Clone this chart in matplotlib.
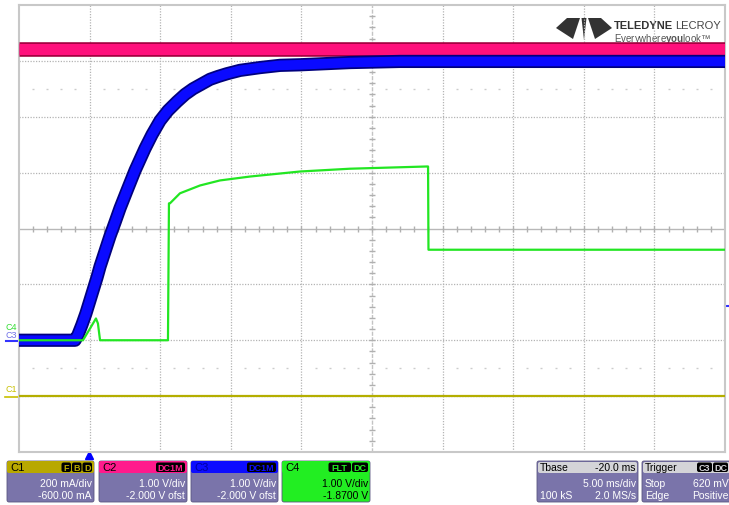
import numpy as np
import matplotlib.pyplot as plt
import matplotlib.patheffects as pe
from matplotlib.patches import FancyBboxPatch, Polygon

plt.rcParams['font.family'] = ['Liberation Sans', 'DejaVu Sans']
plt.rcParams['mathtext.fontset'] = 'custom'
plt.rcParams['mathtext.rm'] = 'Liberation Sans'
plt.rcParams['mathtext.bf'] = 'Liberation Sans:bold'

# timebase: ms relative to trigger, 5 ms/div, 10 divisions
t_start = -5.0
t_div = 5.0

# channel settings (scale per div, offset)
c1_scale, c1_offset = 0.2, -0.6     # A
c2_scale, c2_offset = 1.0, -2.0     # V
c3_scale, c3_offset = 1.0, -2.0     # V
c4_scale, c4_offset = 1.0, -1.87    # V

# C1 current (A)
c1_t = [-5.0, 45.0]
c1_a = [0.0, 0.0]

# C2 rail (V)
c2_t = [-5.0, 45.0]
c2_v = [5.22, 5.22]

# C3 ramp (V)
c3_t = [-5.0, -1.03, -0.82, -0.54, -0.26, -0.04, 0.24, 0.52, 0.74, 1.09, 1.44,
        1.80, 2.15, 2.65, 3.22, 3.92, 4.42, 4.99, 5.55, 6.19, 6.76, 7.32, 7.96,
        8.53, 9.09, 9.73, 10.65, 12.07, 13.49, 14.90, 18.44, 21.98, 29.06, 45.0]
c3_v = [0.0, 0.0, 0.10, 0.28, 0.48, 0.66, 0.89, 1.12, 1.32, 1.59, 1.86,
        2.11, 2.36, 2.68, 3.04, 3.43, 3.68, 3.93, 4.11, 4.27, 4.40, 4.50, 4.59,
        4.67, 4.72, 4.77, 4.83, 4.88, 4.92, 4.93, 4.97, 4.99, 4.99, 4.99]

# C4 (V)
c4_t = [-5.0, -0.47, 0.03, 0.45, 0.59, 0.74, 5.55, 5.62, 5.69, 6.40, 7.82,
        9.23, 11.36, 14.90, 18.44, 23.89, 23.97, 24.0, 45.0]
c4_v = [-0.13, -0.13, 0.08, 0.26, 0.17, -0.13, -0.13, 2.32, 2.32, 2.50, 2.64,
        2.73, 2.80, 2.89, 2.94, 2.98, 2.98, 1.49, 1.49]

trig_level = 0.62

def to_div(vals, scale, offset):
    return (np.array(vals) + offset) / scale

W, H = 729, 506
fig = plt.figure(figsize=(W / 100, H / 100), dpi=100)
fig.patch.set_facecolor('white')

# overlay in pixel coords for panels, logo, markers
ov = fig.add_axes([0, 0, 1, 1], zorder=0)
ov.set_xlim(0, W)
ov.set_ylim(H, 0)
ov.axis('off')

ax = fig.add_axes([19 / W, 1 - 453 / H, 706 / W, 447 / H], zorder=1)
ax.patch.set_alpha(0)
ax.set_xlim(t_start, t_start + 10 * t_div)
ax.set_ylim(-4, 4)
ax.set_xticks([])
ax.set_yticks([])
for s in ax.spines.values():
    s.set_color('#c8c8c8')
    s.set_linewidth(1.5)

# graticule
gc = '#b4b4b4'
for i in range(1, 10):
    if i != 5:
        ax.axvline(t_start + i * t_div, ls=(0, (1, 1.2)), color=gc, lw=0.9)
for j in range(-3, 4):
    if j != 0:
        ax.axhline(j, ls=(0, (1, 1.2)), color=gc, lw=0.9)
t_mid = t_start + 5 * t_div
ax.axhline(0, color='#b8b8b8', lw=1.0)
ax.axvline(t_mid, color='#c4c4c4', lw=1.0, ls=(0, (3, 1)))
sub_x = [t_start + k * t_div / 5 for k in range(1, 50)]
ax.plot(sub_x, [0] * len(sub_x), ls='none', marker='|', ms=4.5, mew=1, color='#b0b0b0')
sub_y = [k / 5 for k in range(-19, 20)]
ax.plot([t_mid] * len(sub_y), sub_y, ls='none', marker='_', ms=4.5, mew=1, color='#b0b0b0')
dot_x = [x for k, x in enumerate(sub_x) if (k + 1) % 5 != 0]
for yy in (2.5, -2.5):
    ax.plot(dot_x, [yy] * len(dot_x), ls='none', marker='_', ms=2, mew=1, color='#cccccc')

# traces
ax.plot(c1_t, to_div(c1_a, c1_scale, c1_offset), color='#b4ae00', lw=1.6, zorder=3)
ax.plot(c2_t, to_div(c2_v, c2_scale, c2_offset), color='#ff107c', lw=8, zorder=4,
        solid_capstyle='butt',
        path_effects=[pe.Stroke(linewidth=10.5, foreground='#a3003f'), pe.Normal()])
ax.plot(c3_t, to_div(c3_v, c3_scale, c3_offset), color='#0a0aff', lw=7, zorder=5,
        solid_capstyle='butt', solid_joinstyle='round',
        path_effects=[pe.Stroke(linewidth=9.5, foreground='#00007e'), pe.Normal()])
ax.plot(c4_t, to_div(c4_v, c4_scale, c4_offset), color='#22e622', lw=1.6, zorder=6)

# left channel markers
def ypix(d):
    return 230 - d * 55.9

c1_zero = ypix(to_div([0], c1_scale, c1_offset)[0])
c3_zero = ypix(to_div([0], c3_scale, c3_offset)[0])
ov.text(11, 327, 'C4', color='#33dd33', fontsize=6.5, ha='center', va='center')
ov.text(11, 335, 'C3', color='#7070e8', fontsize=6.5, ha='center', va='center')
ov.text(11, 390, 'C1', color='#c8c000', fontsize=6.5, ha='center', va='center')
ov.plot([6, 19], [c3_zero] * 2, color='#3333ff', lw=1.5)
ov.plot([5, 19], [c1_zero] * 2, color='#c8c000', lw=1.2)
ty = ypix(to_div([trig_level], c3_scale, c3_offset)[0])
ov.plot([725, 729], [ty, ty], color='#3333ff', lw=1.5)
ov.plot([89], [455.5], marker='^', ms=6, color='#0000ff', ls='none')

# logo
logo_c = '#333333'
for pts in ([(567, 19), (580, 19), (573, 40), (556, 29)],
            [(601, 19), (588, 19), (595, 40), (612, 29)],
            [(581.5, 19), (586.5, 19), (584, 41)]):
    ov.add_patch(Polygon(pts, closed=True, color=logo_c, lw=0))
ov.text(614, 25.5, 'TELEDYNE', fontsize=8, fontweight='bold', color='#333333', va='center')
ov.text(675, 25.5, 'LECROY', fontsize=8, color='#444444', va='center')
ov.text(614, 38.5, r'Everywhere$\mathbf{you}$look' + '\u2122', fontsize=7,
        color='#555555', va='center')

# info panels
body_c = '#7a74aa'
panels = [
    (7, 94, '#b8a800', 'C1', '#000000', ['F', 'B', 'D'], '#b8a800',
     ['', '200 mA/div', '-600.00 mA'], '#ffffff', body_c),
    (99, 187, '#ff1a8c', 'C2', '#000000', ['DC1M'], '#ff1a8c',
     ['', '1.00 V/div', '-2.000 V ofst'], '#ffffff', body_c),
    (191, 278, '#0c0cff', 'C3', '#0000a0', ['DC1M'], '#0c0cff',
     ['', '1.00 V/div', '-2.000 V ofst'], '#ffffff', body_c),
    (282, 370, '#22ee22', 'C4', '#000000', ['FLT', 'DC'], '#22ee22',
     ['', '1.00 V/div', '-1.8700 V'], '#000000', '#22ee22'),
]
for x0, x1, hc, title, tc, badges, bc, lines, txc, bodyc in panels:
    ov.add_patch(FancyBboxPatch((x0, 462), x1 - x0, 41, boxstyle='round,pad=0,rounding_size=2',
                                fc=bodyc, ec='#5a5580', lw=0.6))
    ov.add_patch(FancyBboxPatch((x0, 462), x1 - x0, 12, boxstyle='round,pad=0,rounding_size=2',
                                fc=hc, ec='none'))
    ov.text(x0 + 3, 468.5, title, fontsize=8, color=tc, va='center')
    bx = x1 - 2
    for b in reversed(badges):
        bw = 6.5 * len(b) + 3
        ov.add_patch(FancyBboxPatch((bx - bw, 463.5), bw, 9.5,
                                    boxstyle='round,pad=0,rounding_size=2', fc='#000000', ec='none'))
        ov.text(bx - bw / 2, 468.5, b, fontsize=6.5, color=bc, ha='center', va='center',
                fontweight='bold')
        bx -= bw + 1
    ov.text(x1 - 2, 484, lines[1], fontsize=7.5, color=txc, ha='right', va='center')
    ov.text(x1 - 2, 496, lines[2], fontsize=7.5, color=txc, ha='right', va='center')

# timebase and trigger panels
tb_rows = [('Tbase', '-20.0 ms'), ('', '5.00 ms/div'), ('100 kS', '2.0 MS/s')]
tr_rows = [('Trigger', ''), ('Stop', '620 mV'), ('Edge', 'Positive')]
for x0, x1, rows, badges in ((537, 638, tb_rows, []), (642, 731, tr_rows, ['C3', 'DC'])):
    ov.add_patch(FancyBboxPatch((x0, 462), x1 - x0, 41, boxstyle='round,pad=0,rounding_size=2',
                                fc=body_c, ec='#5a5580', lw=0.6))
    ov.add_patch(FancyBboxPatch((x0 + 1, 463), x1 - x0 - 2, 11, boxstyle='round,pad=0,rounding_size=2',
                                fc='#d4d4d8', ec='none'))
    for k, (lt, rt) in enumerate(rows):
        yy = [468.5, 484, 496][k]
        col = '#000000' if k == 0 else '#ffffff'
        ov.text(x0 + 3, yy, lt, fontsize=7.5, color=col, va='center')
        if rt:
            ov.text(x1 - 2, yy, rt, fontsize=7.5, color=col, ha='right', va='center')
    bx = x1 - 3
    for b in reversed(badges):
        bw = 6.0 * len(b) + 3
        ov.add_patch(FancyBboxPatch((bx - bw, 463.5), bw, 9.5,
                                    boxstyle='round,pad=0,rounding_size=2', fc='#000000', ec='none'))
        ov.text(bx - bw / 2, 468.5, b, fontsize=6.5, color='#d4d4d8', ha='center', va='center',
                fontweight='bold')
        bx -= bw + 1

fig.savefig('out.png', dpi=100)
